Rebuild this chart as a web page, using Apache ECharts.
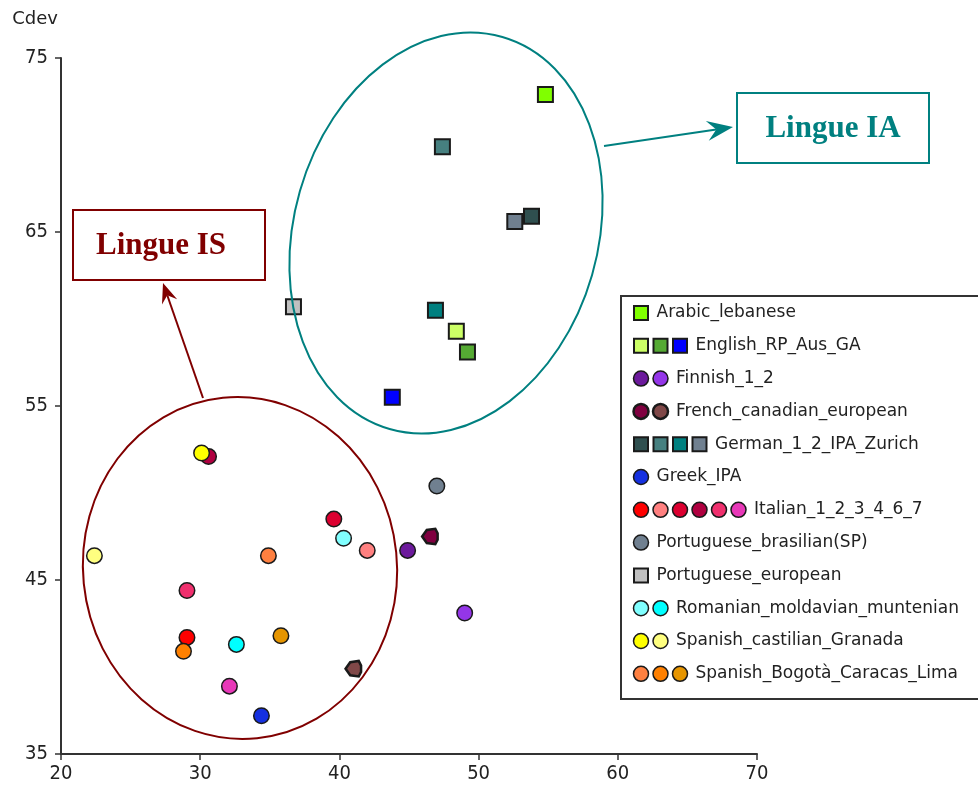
<!DOCTYPE html>
<html>
<head>
<meta charset="utf-8">
<script src="https://cdn.jsdelivr.net/npm/echarts@6/dist/echarts.min.js"></script>
<style>
  html, body { margin: 0; padding: 0; background: #fff; }
  #chart { width: 978px; height: 787px; }
</style>
</head>
<body>
<div id="chart"></div>
<script>
// language groups, one series each
const groupNames = [
  "Arabic_lebanese",
  "English_RP_Aus_GA",
  "Finnish_1_2",
  "French_canadian_european",
  "German_1_2_IPA_Zurich",
  "Greek_IPA",
  "Italian_1_2_3_4_6_7",
  "Portuguese_brasilian(SP)",
  "Portuguese_european",
  "Romanian_moldavian_muntenian",
  "Spanish_castilian_Granada",
  "Spanish_Bogotà_Caracas_Lima"
];
const groupShapes = ["rect", "rect", "circle", "french", "rect", "circle",
                     "circle", "circle", "rect", "circle", "circle", "circle"];
const groupColors = [
  ["#80ff00"],
  ["#ccff66", "#55aa33", "#0000ff"],
  ["#6c1a9c", "#9436e8"],
  ["#800040", "#804848"],
  ["#2f4f4f", "#468080", "#008080", "#708090"],
  ["#1530e0"],
  ["#ff0000", "#ff8080", "#dc0030", "#b00040", "#f0306e", "#e838b8"],
  ["#708090"],
  ["#c0c0c0"],
  ["#80ffff", "#00ffff"],
  ["#ffff00", "#ffff80"],
  ["#ff8040", "#ff8000", "#e69500"]
];
const groupX = [
  [54.8],
  [48.4, 49.2, 43.8],
  [44.9, 49.0],
  [46.5, 41.0],
  [53.8, 47.4, 46.9, 52.6],
  [34.4],
  [29.05, 42.0, 39.6, 30.6, 29.05, 32.1],
  [47.0],
  [36.7],
  [40.3, 32.6],
  [30.1, 22.4],
  [34.9, 28.8, 35.8]
];
const groupY = [
  [72.9],
  [59.3, 58.1, 55.5],
  [46.7, 43.1],
  [47.5, 39.9],
  [65.9, 69.9, 60.5, 65.6],
  [37.2],
  [41.7, 46.7, 48.5, 52.1, 44.4, 38.9],
  [50.4],
  [60.7],
  [47.4, 41.3],
  [52.3, 46.4],
  [46.4, 40.9, 41.8]
];
const xTicks = [20, 30, 40, 50, 60, 70];
const yTicks = [35, 45, 55, 65, 75];

const frenchPath = "path://M0,50 L30,8 L85,0 L100,30 L100,70 L85,100 L30,92 Z";

const chart = echarts.init(document.getElementById("chart"));

const series = groupNames.map((name, i) => ({
  name: name,
  type: "scatter",
  symbol: groupShapes[i] === "french" ? frenchPath : groupShapes[i],
  symbolSize: groupShapes[i] === "rect" ? 15 : 15.5,
  data: groupX[i].map((x, j) => ({
    value: [x, groupY[i][j]],
    itemStyle: {
      color: groupColors[i][j],
      opacity: 1,
      borderColor: "#1a1a1a",
      borderWidth: groupShapes[i] === "rect" ? 2 : (groupShapes[i] === "french" ? 2.5 : 1.5)
    }
  }))
}));

// hand-drawn legend box
function legendGraphics() {
  const els = [{
    type: "rect", z: 50,
    shape: { x: 621, y: 296, width: 400, height: 403 },
    style: { fill: "#fff", stroke: "#333", lineWidth: 2 }
  }];
  groupNames.forEach((name, i) => {
    const cy = 313 + i * 32.8;
    const n = groupColors[i].length;
    groupColors[i].forEach((c, j) => {
      const cx = 641 + j * 19.5;
      if (groupShapes[i] === "rect") {
        els.push({ type: "rect", z: 51,
          shape: { x: cx - 7, y: cy - 7, width: 14, height: 14 },
          style: { fill: c, stroke: "#1a1a1a", lineWidth: 2 } });
      } else {
        els.push({ type: "circle", z: 51,
          shape: { cx: cx, cy: cy, r: 7.5 },
          style: { fill: c, stroke: "#1a1a1a", lineWidth: groupShapes[i] === "french" ? 2.5 : 1.5 } });
      }
    });
    els.push({ type: "text", z: 51, x: 633 + n * 19.5 + 4, y: cy,
      style: { text: name, fill: "#222", font: "17px 'DejaVu Sans'", verticalAlign: "middle" } });
  });
  return els;
}

function arrow(x1, y1, x2, y2, color, L, W) {
  const a = Math.atan2(y2 - y1, x2 - x1);
  const ux = Math.cos(a), uy = Math.sin(a);
  const bx = x2 - L * ux, by = y2 - L * uy;
  const nx = x2 - (L * 0.65) * ux, ny = y2 - (L * 0.65) * uy;
  return [
    { type: "line", z: 100, shape: { x1: x1, y1: y1, x2: nx, y2: ny },
      style: { stroke: color, lineWidth: 2 } },
    { type: "polygon", z: 100,
      shape: { points: [[x2, y2], [bx - W * uy, by + W * ux], [nx, ny], [bx + W * uy, by - W * ux]] },
      style: { fill: color } }
  ];
}

const annotations = [
  { type: "ellipse", z: 100, x: 446, y: 233, rotation: -0.28,
    shape: { cx: 0, cy: 0, rx: 152, ry: 204 },
    style: { fill: "none", stroke: "#008080", lineWidth: 2 } },
  { type: "ellipse", z: 100, x: 240, y: 568, rotation: 0.1,
    shape: { cx: 0, cy: 0, rx: 157, ry: 171 },
    style: { fill: "none", stroke: "#800000", lineWidth: 2 } },
  { type: "rect", z: 100, shape: { x: 737, y: 93, width: 192, height: 70 },
    style: { fill: "#fff", stroke: "#008080", lineWidth: 2 } },
  { type: "text", z: 101, x: 833, y: 129,
    style: { text: "Lingue IA", fill: "#008080", font: "bold 31px 'Liberation Serif'",
             align: "center", verticalAlign: "middle" } },
  { type: "rect", z: 100, shape: { x: 73, y: 210, width: 192, height: 70 },
    style: { fill: "#fff", stroke: "#800000", lineWidth: 2 } },
  { type: "text", z: 101, x: 161, y: 246,
    style: { text: "Lingue IS", fill: "#800000", font: "bold 31px 'Liberation Serif'",
             align: "center", verticalAlign: "middle" } }
].concat(arrow(604, 146, 733, 127, "#008080", 26, 10))
 .concat(arrow(203, 398, 163, 283, "#800000", 20, 8));

const axisFont = { color: "#222", fontFamily: "'DejaVu Sans Condensed', 'DejaVu Sans'", fontSize: 20 };

chart.setOption({
  animation: false,
  grid: { left: 61, top: 58, right: 221, bottom: 33, containLabel: false },
  legend: { show: false },
  xAxis: {
    type: "value", min: xTicks[0], max: xTicks[xTicks.length - 1], interval: 10,
    axisLine: { show: true, lineStyle: { color: "#333", width: 2 } },
    axisTick: { show: true, length: 6, lineStyle: { color: "#333", width: 1.5 } },
    splitLine: { show: false },
    axisLabel: Object.assign({ margin: 10 }, axisFont)
  },
  yAxis: {
    type: "value", min: yTicks[0], max: yTicks[yTicks.length - 1], interval: 10,
    name: "Cdev", nameLocation: "end", nameGap: 30,
    nameTextStyle: { color: "#222", fontFamily: "'DejaVu Sans'", fontSize: 18, align: "right", padding: [0, 3, 0, 0] },
    axisLine: { show: true, lineStyle: { color: "#333", width: 2 } },
    axisTick: { show: true, length: 6, lineStyle: { color: "#333", width: 1.5 } },
    splitLine: { show: false },
    axisLabel: Object.assign({ margin: 13 }, axisFont)
  },
  series: series,
  graphic: legendGraphics().concat(annotations)
});
</script>
</body>
</html>
